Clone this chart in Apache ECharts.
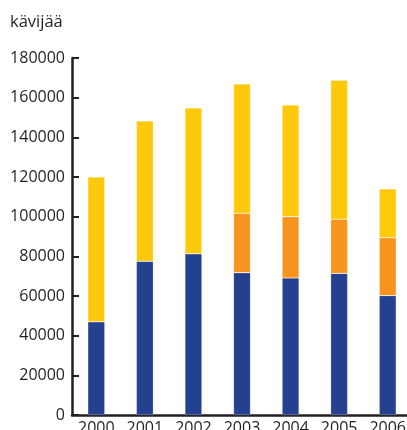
<!DOCTYPE html>
<html>
<head>
<meta charset="UTF-8">
<script src="https://cdn.jsdelivr.net/npm/echarts@6/dist/echarts.min.js"></script>
<style>
  html, body { margin: 0; padding: 0; background: #fff; }
  #main { width: 407px; height: 430px; }
</style>
</head>
<body>
<div id="main"></div>
<script>
const years = ['2000', '2001', '2002', '2003', '2004', '2005', '2006'];
const blueValues = [47000, 77500, 81300, 71800, 69100, 71400, 60200];
const orangeValues = [0, 0, 0, 29900, 30900, 27300, 29200];
const yellowValues = [73000, 70800, 73500, 65200, 56300, 70100, 24600];

const font = '"Open Sans", "Noto Sans", sans-serif';
const ink = '#231f20';

const chart = echarts.init(document.getElementById('main'));

const bar = (name, data, color) => ({
  name,
  type: 'bar',
  stack: 'total',
  data,
  barWidth: 17,
  itemStyle: { color, borderColor: 'rgba(255,255,255,0.35)', borderWidth: 0.6 }
});

chart.setOption({
  animation: false,
  title: {
    text: 'kävijää',
    left: 5,
    top: 9,
    textStyle: { fontFamily: font, fontSize: 16.5, fontWeight: 'normal', color: ink }
  },
  grid: { left: 72, top: 58, width: 340, height: 357, containLabel: false, outerBoundsMode: 'none' },
  xAxis: {
    type: 'category',
    data: years,
    axisLine: { lineStyle: { color: ink, width: 2.5 } },
    axisTick: { inside: true, length: 8, lineStyle: { color: ink, width: 2 } },
    axisLabel: { fontFamily: font, fontSize: 16, color: ink, margin: 5 }
  },
  yAxis: {
    type: 'value',
    min: 0,
    max: 180000,
    interval: 20000,
    splitLine: { show: false },
    axisLine: { show: true, lineStyle: { color: ink, width: 2.5 } },
    axisTick: { show: true, inside: true, length: 7, lineStyle: { color: ink, width: 2 } },
    axisLabel: { fontFamily: font, fontSize: 16, color: ink, margin: 7, formatter: v => String(v) }
  },
  series: [
    bar('sininen', blueValues, '#24408e'),
    bar('oranssi', orangeValues, '#f7941d'),
    bar('keltainen', yellowValues, '#ffc90b')
  ]
});
</script>
</body>
</html>
